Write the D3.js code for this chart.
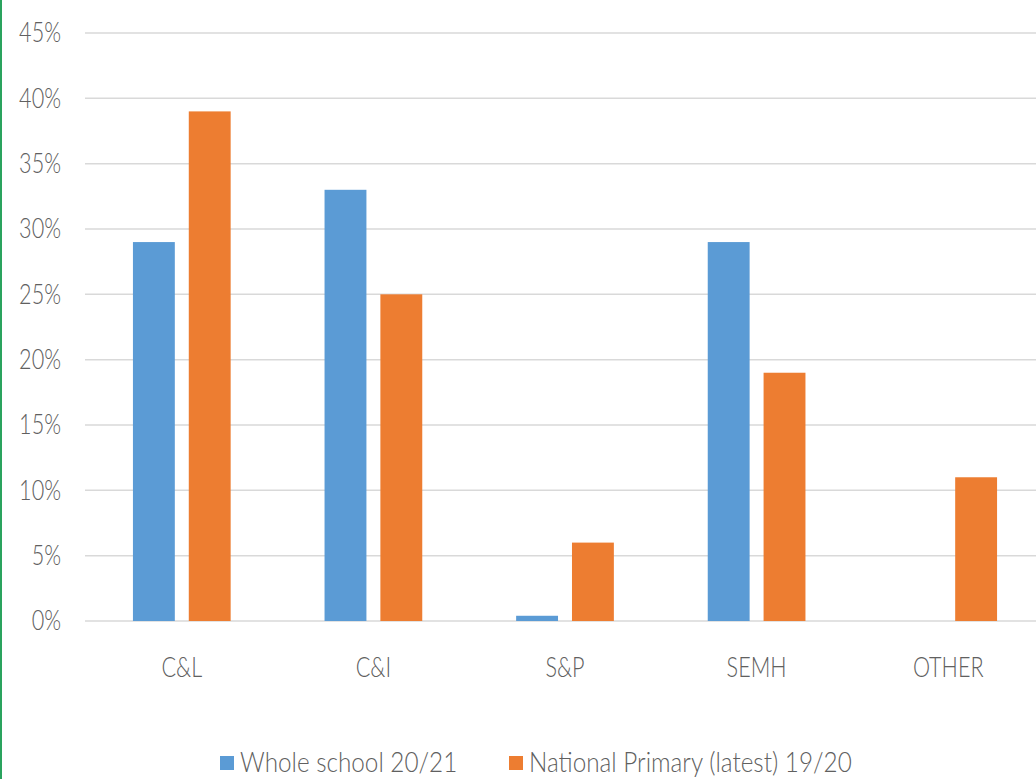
<!DOCTYPE html>
<html>
<head>
<meta charset="utf-8">
<script src="https://cdnjs.cloudflare.com/ajax/libs/d3/7.8.5/d3.min.js"></script>
<style>
  body { margin: 0; background: #fff; }
  text { font-family: Lato, "Open Sans", sans-serif; fill: #606060; }
</style>
</head>
<body>
<svg id="chart" width="1036" height="779"></svg>
<script>
// categories and series
const categories = ["C&L", "C&I", "S&P", "SEMH", "OTHER"];
const seriesNames = ["Whole school 20/21", "National Primary (latest) 19/20"];
const wholeSchool = [0.29, 0.33, 0.004, 0.29, 0];
const nationalPrimary = [0.39, 0.25, 0.06, 0.19, 0.11];
const yTicks = [0, 0.05, 0.10, 0.15, 0.20, 0.25, 0.30, 0.35, 0.40, 0.45];
const colors = ["#5b9bd5", "#ed7d31"];

const svg = d3.select("#chart");
const W = 1036, H = 779;
const squeeze = 0.8; // text in the picture is horizontally narrow

// green strip at left edge
svg.append("rect").attr("x", 0).attr("y", 0).attr("width", 2).attr("height", H)
  .attr("fill", "#2aa35e");

const y = d3.scaleLinear().domain([0, 0.45]).range([621, 33]);
const x0 = d3.scaleBand().domain(categories).range([86, 1044])
  .paddingInner(0.49).paddingOuter(0.245);
const x1 = d3.scaleBand().domain([0, 1]).range([0, x0.bandwidth()])
  .paddingInner(0.25).paddingOuter(0);

//----gridlines----
svg.append("g").selectAll("line").data(yTicks).join("line")
  .attr("x1", 85).attr("x2", W)
  .attr("y1", d => y(d)).attr("y2", d => y(d))
  .attr("stroke", "#d9d9d9").attr("stroke-width", 1.5);

//----y labels----
svg.append("g").selectAll("text").data(yTicks).join("text")
  .attr("transform", d => `translate(61,${y(d)}) scale(${squeeze},1)`)
  .attr("text-anchor", "end")
  .attr("dy", "0.35em")
  .style("font-size", "27px")
  .style("font-weight", 300)
  .text(d => d3.format(".0%")(d));

//----bars----
const rows = categories.map((c, i) => ({cat: c, vals: [wholeSchool[i], nationalPrimary[i]]}));
const groups = svg.append("g").selectAll("g").data(rows).join("g")
  .attr("transform", d => `translate(${x0(d.cat)},0)`);
groups.selectAll("rect").data(d => d.vals.map((v, s) => ({v, s}))).join("rect")
  .attr("x", d => x1(d.s))
  .attr("width", x1.bandwidth())
  .attr("y", d => y(d.v))
  .attr("height", d => y(0) - y(d.v))
  .attr("fill", d => colors[d.s]);

//----category labels----
svg.append("g").selectAll("text").data(categories).join("text")
  .attr("transform", d => `translate(${x0(d) + x0.bandwidth() / 2},668) scale(${squeeze},1)`)
  .attr("text-anchor", "middle")
  .attr("dy", "0.35em")
  .style("font-size", "27px")
  .style("font-weight", 300)
  .text(d => d);

//----legend----
const legendX = [220, 509];
const legend = svg.append("g").selectAll("g").data(seriesNames).join("g")
  .attr("transform", (d, i) => `translate(${legendX[i]},763)`);
legend.append("rect").attr("x", 0).attr("y", -7).attr("width", 14).attr("height", 14)
  .attr("fill", (d, i) => colors[i]);
legend.append("text")
  .attr("transform", "translate(20,0) scale(0.9,1)")
  .attr("dy", "0.35em")
  .style("font-size", "27px")
  .style("font-weight", 300)
  .text(d => d);
</script>
</body>
</html>
